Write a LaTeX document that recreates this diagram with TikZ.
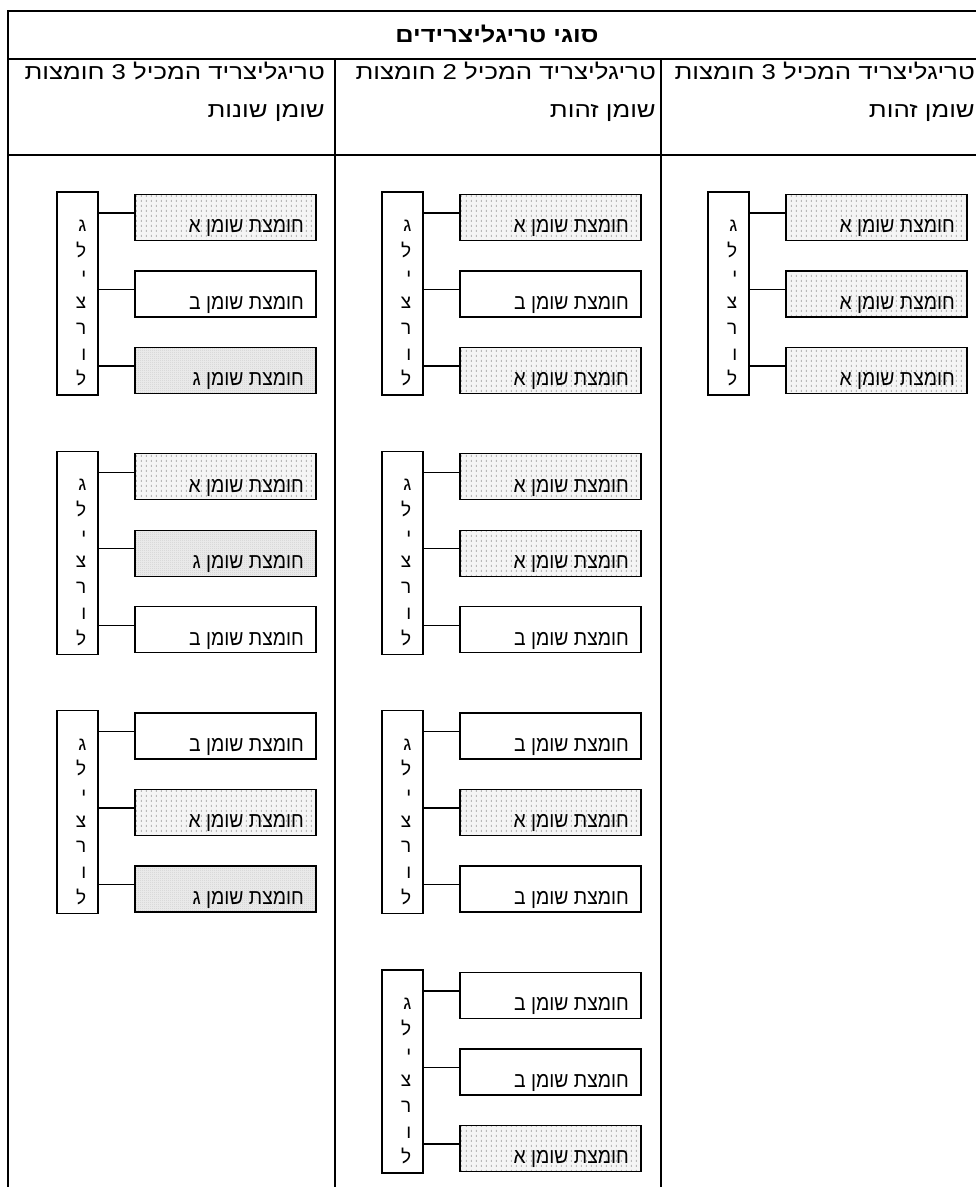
\documentclass[tikz,border=0pt]{standalone}
\usepackage{fontspec}
\usetikzlibrary{patterns,calc}
\TeXXeTstate=1
\newfontfamily\heb[Script=Hebrew]{Liberation Sans}
\newfontfamily\hebbox[Script=Hebrew,FakeStretch=0.9]{Liberation Sans}
\newfontfamily\hebwide[Script=Hebrew,FakeStretch=1.2]{Liberation Sans}
\newfontfamily\hebtitle[Script=Hebrew,FakeStretch=1.18]{Liberation Sans}
\pgfdeclarepatternformonly{patA}{\pgfqpoint{0pt}{0pt}}{\pgfqpoint{5pt}{5pt}}{\pgfqpoint{5pt}{5pt}}{%
  \pgfpathrectangle{\pgfqpoint{1pt}{0pt}}{\pgfqpoint{1.3pt}{2.6pt}}\pgfusepath{fill}}
\pgfdeclarepatternformonly{patC}{\pgfqpoint{0pt}{0pt}}{\pgfqpoint{2pt}{2pt}}{\pgfqpoint{2pt}{2pt}}{%
  \pgfpathrectangle{\pgfqpoint{0pt}{0pt}}{\pgfqpoint{1pt}{1pt}}%
  \pgfpathrectangle{\pgfqpoint{1pt}{1pt}}{\pgfqpoint{1pt}{1pt}}\pgfusepath{fill}}
\tikzset{
  tline/.style={line width=2pt},
  glyc/.style={draw, line width=1.3pt, minimum width=41pt, minimum height=203pt, inner sep=0pt},
  acid/.style={draw, line width=1.3pt, minimum width=181pt, minimum height=46pt, inner sep=0pt},
  conn/.style={line width=1.3pt},
  pA/.style={preaction={fill=gray!8}, pattern=patA, pattern color=gray!55},
  pB/.style={fill=white},
  pC/.style={preaction={fill=gray!14}, pattern=patC, pattern color=gray!38},
  btext/.style={font=\hebbox\fontsize{21.5}{24}\selectfont, inner sep=0pt, anchor=base east},
  ltext/.style={font=\heb\fontsize{19}{22}\selectfont, inner sep=0pt, anchor=base east},
  htext/.style={font=\hebwide\fontsize{21.5}{24}\selectfont, inner sep=0pt, anchor=base east},
  ttext/.style={font=\hebtitle\bfseries\fontsize{21.5}{24}\selectfont, inner sep=0pt, anchor=base},
}
\newcommand\acidpart[5]{% name, x-left, y-top, style, letter
  \node[acid,#4] (#1) at (#2+90.5, #3+23) {};
  \node[btext] (#1t) at ([xshift=-12.5pt,yshift=-39pt]#1.north east) {\beginR חומצת שומן #5\endR};
}
\newcommand\tgroup[9]{% name, x, y, s1, l1, s2, l2, s3, l3
  \node[glyc] (#1g) at (#2+20.5, #3+101.5) {};
  \foreach \L [count=\i from 0] in {ג,ל,י,צ,ר,ו,ל}
    \node[ltext] (#1l\i) at (#2+29.5, #3+39.5+25.7*\i) {\L};
  \acidpart{#1a}{#2+78}{#3+2.5}{#4}{#5}
  \acidpart{#1b}{#2+78}{#3+79}{#6}{#7}
  \acidpart{#1c}{#2+78}{#3+155.5}{#8}{#9}
  \foreach \k in {a,b,c}
    \draw[conn] ([yshift=-19pt]#1\k.north west) -- ([yshift=-19pt]#1\k.north west -| #1g.east);
}
\begin{document}
\begin{tikzpicture}[x=1pt,y=-1pt]
\useasboundingbox (0,0) rectangle (976,1187);
\clip (0,0) rectangle (976,1187);
\fill[white] (0,0) rectangle (976,1187);
% table
\draw[tline] (8,1187) -- (8,11) -- (987,11) -- (987,1187);
\draw[tline] (8,59) -- (987,59);
\draw[tline] (8,155) -- (987,155);
\draw[tline] (335,59) -- (335,1187);
\draw[tline] (661,59) -- (661,1187);
% header
\node[ttext] (title) at (497,42) {\beginR סוגי טריגליצרידים\endR};
\node[htext] (h1a) at (325,79) {\beginR טריגליצריד המכיל 3 חומצות\endR};
\node[htext] (h1b) at (325,117) {\beginR שומן שונות\endR};
\node[htext] (h2a) at (656,79) {\beginR טריגליצריד המכיל 2 חומצות\endR};
\node[htext] (h2b) at (656,117) {\beginR שומן זהות\endR};
\node[htext] (h3a) at (975,79) {\beginR טריגליצריד המכיל 3 חומצות\endR};
\node[htext] (h3b) at (975,117) {\beginR שומן זהות\endR};
% column 1
\tgroup{ka}{57}{192}{pA}{א}{pB}{ב}{pC}{ג}
\tgroup{kb}{57}{451.3}{pA}{א}{pC}{ג}{pB}{ב}
\tgroup{kc}{57}{710.6}{pB}{ב}{pA}{א}{pC}{ג}
% column 2
\tgroup{ma}{382}{192}{pA}{א}{pB}{ב}{pA}{א}
\tgroup{mb}{382}{451.3}{pA}{א}{pA}{א}{pB}{ב}
\tgroup{mc}{382}{710.6}{pB}{ב}{pA}{א}{pB}{ב}
\tgroup{md}{382}{970}{pB}{ב}{pB}{ב}{pA}{א}
% column 3
\tgroup{na}{708}{192}{pA}{א}{pA}{א}{pA}{א}
\end{tikzpicture}
\end{document}
